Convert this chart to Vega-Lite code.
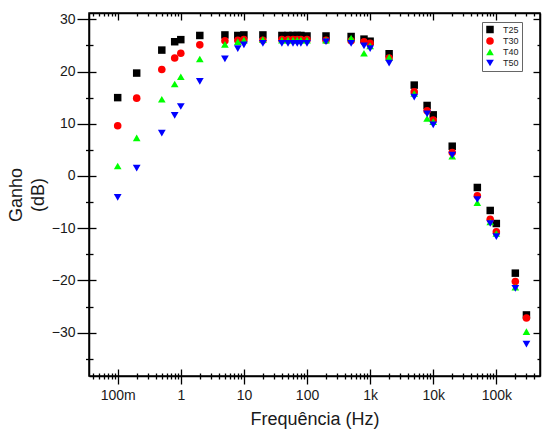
{
  "$schema": "https://vega.github.io/schema/vega-lite/v6.json",
  "width": 451,
  "height": 363,
  "autosize": {"type": "none"},
  "padding": {"left": 89, "top": 13, "right": 2, "bottom": 56},
  "background": "white",
  "config": {
    "view": {"stroke": "black", "strokeWidth": 1.5},
    "axis": {"labelFont": "Liberation Sans", "titleFont": "Liberation Sans", "labelFontSize": 14, "titleFontSize": 18, "titleFontWeight": "normal", "labelColor": "#1a1a1a", "titleColor": "#1a1a1a", "domainColor": "black", "tickColor": "black", "domainWidth": 1.5, "tickWidth": 1.3, "grid": false},
    "legend": {"labelFont": "Liberation Sans", "labelFontSize": 9, "labelColor": "#222"}
  },
  "data": {"values": [
    {"f":0.1,"g":15.0,"s":"T25"},{"f":0.2,"g":19.7,"s":"T25"},{"f":0.5,"g":24.1,"s":"T25"},{"f":0.8,"g":25.7,"s":"T25"},{"f":1,"g":26.1,"s":"T25"},{"f":2,"g":26.9,"s":"T25"},{"f":5,"g":27.0,"s":"T25"},{"f":8,"g":26.9,"s":"T25"},{"f":10,"g":27.0,"s":"T25"},{"f":20,"g":27.0,"s":"T25"},{"f":40,"g":26.9,"s":"T25"},{"f":50,"g":26.9,"s":"T25"},{"f":60,"g":26.9,"s":"T25"},{"f":70,"g":26.9,"s":"T25"},{"f":80,"g":26.9,"s":"T25"},{"f":100,"g":26.8,"s":"T25"},{"f":200,"g":26.8,"s":"T25"},{"f":500,"g":26.7,"s":"T25"},{"f":800,"g":26.2,"s":"T25"},{"f":1000,"g":25.8,"s":"T25"},{"f":2000,"g":23.4,"s":"T25"},{"f":5000,"g":17.4,"s":"T25"},{"f":8000,"g":13.5,"s":"T25"},{"f":10000,"g":11.7,"s":"T25"},{"f":20000,"g":5.7,"s":"T25"},{"f":50000,"g":-2.2,"s":"T25"},{"f":80000,"g":-6.6,"s":"T25"},{"f":100000,"g":-9.1,"s":"T25"},{"f":200000,"g":-18.6,"s":"T25"},{"f":300000,"g":-26.6,"s":"T25"},
    {"f":0.1,"g":9.6,"s":"T30"},{"f":0.2,"g":14.9,"s":"T30"},{"f":0.5,"g":20.4,"s":"T30"},{"f":0.8,"g":22.6,"s":"T30"},{"f":1,"g":23.5,"s":"T30"},{"f":2,"g":25.1,"s":"T30"},{"f":5,"g":25.9,"s":"T30"},{"f":8,"g":26.0,"s":"T30"},{"f":10,"g":26.1,"s":"T30"},{"f":20,"g":26.0,"s":"T30"},{"f":40,"g":26.1,"s":"T30"},{"f":50,"g":26.1,"s":"T30"},{"f":60,"g":26.1,"s":"T30"},{"f":70,"g":26.1,"s":"T30"},{"f":80,"g":26.1,"s":"T30"},{"f":100,"g":26.1,"s":"T30"},{"f":200,"g":26.0,"s":"T30"},{"f":500,"g":25.9,"s":"T30"},{"f":800,"g":25.7,"s":"T30"},{"f":1000,"g":25.4,"s":"T30"},{"f":2000,"g":22.6,"s":"T30"},{"f":5000,"g":16.1,"s":"T30"},{"f":8000,"g":12.5,"s":"T30"},{"f":10000,"g":10.7,"s":"T30"},{"f":20000,"g":4.5,"s":"T30"},{"f":50000,"g":-3.8,"s":"T30"},{"f":80000,"g":-8.3,"s":"T30"},{"f":100000,"g":-10.7,"s":"T30"},{"f":200000,"g":-20.2,"s":"T30"},{"f":300000,"g":-27.2,"s":"T30"},
    {"f":0.1,"g":1.9,"s":"T40"},{"f":0.2,"g":7.3,"s":"T40"},{"f":0.5,"g":14.7,"s":"T40"},{"f":0.8,"g":17.6,"s":"T40"},{"f":1,"g":19.0,"s":"T40"},{"f":2,"g":22.4,"s":"T40"},{"f":5,"g":25.2,"s":"T40"},{"f":8,"g":25.7,"s":"T40"},{"f":10,"g":26.0,"s":"T40"},{"f":20,"g":26.1,"s":"T40"},{"f":40,"g":26.0,"s":"T40"},{"f":50,"g":26.0,"s":"T40"},{"f":60,"g":26.0,"s":"T40"},{"f":70,"g":26.0,"s":"T40"},{"f":80,"g":26.0,"s":"T40"},{"f":100,"g":26.0,"s":"T40"},{"f":200,"g":26.0,"s":"T40"},{"f":500,"g":26.4,"s":"T40"},{"f":800,"g":23.5,"s":"T40"},{"f":1000,"g":24.9,"s":"T40"},{"f":2000,"g":22.7,"s":"T40"},{"f":5000,"g":15.8,"s":"T40"},{"f":8000,"g":11.0,"s":"T40"},{"f":10000,"g":10.4,"s":"T40"},{"f":20000,"g":3.8,"s":"T40"},{"f":50000,"g":-5.1,"s":"T40"},{"f":80000,"g":-8.8,"s":"T40"},{"f":100000,"g":-11.0,"s":"T40"},{"f":200000,"g":-21.3,"s":"T40"},{"f":300000,"g":-29.8,"s":"T40"},
    {"f":0.1,"g":-4.1,"s":"T50"},{"f":0.2,"g":1.5,"s":"T50"},{"f":0.5,"g":8.2,"s":"T50"},{"f":0.8,"g":11.6,"s":"T50"},{"f":1,"g":13.3,"s":"T50"},{"f":2,"g":18.1,"s":"T50"},{"f":5,"g":22.4,"s":"T50"},{"f":8,"g":24.4,"s":"T50"},{"f":10,"g":25.1,"s":"T50"},{"f":20,"g":25.4,"s":"T50"},{"f":40,"g":25.4,"s":"T50"},{"f":50,"g":25.4,"s":"T50"},{"f":60,"g":25.4,"s":"T50"},{"f":70,"g":25.4,"s":"T50"},{"f":80,"g":25.4,"s":"T50"},{"f":100,"g":25.4,"s":"T50"},{"f":200,"g":25.7,"s":"T50"},{"f":500,"g":25.4,"s":"T50"},{"f":800,"g":24.9,"s":"T50"},{"f":1000,"g":24.4,"s":"T50"},{"f":2000,"g":21.6,"s":"T50"},{"f":5000,"g":15.1,"s":"T50"},{"f":8000,"g":11.9,"s":"T50"},{"f":10000,"g":9.8,"s":"T50"},{"f":20000,"g":4.0,"s":"T50"},{"f":50000,"g":-4.5,"s":"T50"},{"f":80000,"g":-9.1,"s":"T50"},{"f":100000,"g":-11.6,"s":"T50"},{"f":200000,"g":-21.5,"s":"T50"},{"f":300000,"g":-32.2,"s":"T50"}
  ]},
  "resolve": {"axis": {"x": "independent", "y": "independent"}},
  "layer": [
    {
      "mark": {"type": "point", "filled": true, "opacity": 1},
      "encoding": {
        "x": {"field": "f", "type": "quantitative",
          "scale": {"type": "log", "domain": [0.0351, 492000], "nice": false},
          "axis": {"orient": "bottom", "title": "Frequência (Hz)", "titlePadding": 8,
            "values": [0.04,0.05,0.06,0.07,0.08,0.09,0.1,0.2,0.3,0.4,0.5,0.6,0.7,0.8,0.9,1,2,3,4,5,6,7,8,9,10,20,30,40,50,60,70,80,90,100,200,300,400,500,600,700,800,900,1000,2000,3000,4000,5000,6000,7000,8000,9000,10000,20000,30000,40000,50000,60000,70000,80000,90000,100000,200000,300000,400000],
            "tickSize": {"condition": {"test": "abs(log(datum.value)/LN10 - round(log(datum.value)/LN10)) < 0.001", "value": 8}, "value": 3},
            "labelExpr": "abs(log(datum.value)/LN10 - round(log(datum.value)/LN10)) < 0.001 ? (datum.value >= 1000 ? format(datum.value/1000,'d') + 'k' : (datum.value < 1 ? format(datum.value*1000,'d') + 'm' : format(datum.value,'d'))) : ''",
            "labelPadding": 4, "labelOverlap": false, "labelBound": false, "labelFlush": false}},
        "y": {"field": "g", "type": "quantitative",
          "scale": {"domain": [-38.29, 31.2], "nice": false, "zero": false},
          "axis": {"orient": "left", "title": ["Ganho", "(dB)"], "titlePadding": 4, "titleLineHeight": 22,
            "values": [-35,-30,-25,-20,-15,-10,-5,0,5,10,15,20,25,30],
            "tickSize": {"condition": {"test": "datum.value % 10 == 0", "value": 12}, "value": 3.5},
            "labelExpr": "datum.value % 10 == 0 ? datum.label : ''",
            "labelPadding": 2, "labelOverlap": false}},
        "color": {"field": "s", "type": "nominal",
          "scale": {"domain": ["T25","T30","T40","T50"], "range": ["#000000","#ff0000","#00ff00","#0000ff"]},
          "legend": {"title": null, "orient": "none", "legendX": 393, "legendY": 9, "strokeColor": "#666", "padding": 3, "rowPadding": 1, "labelOffset": 8}},
        "shape": {"field": "s", "type": "nominal",
          "scale": {"domain": ["T25","T30","T40","T50"], "range": ["square","circle","triangle-up","triangle-down"]}},
        "size": {"field": "s", "type": "nominal",
          "scale": {"domain": ["T25","T30","T40","T50"], "range": [56, 60, 110, 110]}}
      }
    },
    {
      "mark": {"type": "point", "opacity": 0},
      "encoding": {
        "x": {"field": "f", "type": "quantitative",
          "scale": {"type": "log", "domain": [0.0351, 492000], "nice": false},
          "axis": {"orient": "bottom", "title": null, "labels": false, "domain": false,
            "values": [0.04,0.05,0.06,0.07,0.08,0.09,0.1,0.2,0.3,0.4,0.5,0.6,0.7,0.8,0.9,1,2,3,4,5,6,7,8,9,10,20,30,40,50,60,70,80,90,100,200,300,400,500,600,700,800,900,1000,2000,3000,4000,5000,6000,7000,8000,9000,10000,20000,30000,40000,50000,60000,70000,80000,90000,100000,200000,300000,400000],
            "tickSize": {"condition": {"test": "abs(log(datum.value)/LN10 - round(log(datum.value)/LN10)) < 0.001", "value": -7}, "value": -3}}},
        "y": {"field": "g", "type": "quantitative",
          "scale": {"domain": [-38.29, 31.2], "nice": false, "zero": false},
          "axis": {"orient": "left", "title": null, "labels": false, "domain": false,
            "values": [-35,-30,-25,-20,-15,-10,-5,0,5,10,15,20,25,30],
            "tickSize": {"condition": {"test": "datum.value % 10 == 0", "value": -7}, "value": -4}}}
      }
    },
    {
      "mark": {"type": "point", "opacity": 0},
      "encoding": {
        "x": {"field": "f", "type": "quantitative",
          "scale": {"type": "log", "domain": [0.0351, 492000], "nice": false},
          "axis": {"orient": "top", "title": null, "labels": false, "domain": true,
            "values": [0.04,0.05,0.06,0.07,0.08,0.09,0.1,0.2,0.3,0.4,0.5,0.6,0.7,0.8,0.9,1,2,3,4,5,6,7,8,9,10,20,30,40,50,60,70,80,90,100,200,300,400,500,600,700,800,900,1000,2000,3000,4000,5000,6000,7000,8000,9000,10000,20000,30000,40000,50000,60000,70000,80000,90000,100000,200000,300000,400000],
            "tickSize": {"condition": {"test": "abs(log(datum.value)/LN10 - round(log(datum.value)/LN10)) < 0.001", "value": -7}, "value": -3}}},
        "y": {"field": "g", "type": "quantitative",
          "scale": {"domain": [-38.29, 31.2], "nice": false, "zero": false},
          "axis": {"orient": "right", "title": null, "labels": false, "domain": true,
            "values": [-35,-30,-25,-20,-15,-10,-5,0,5,10,15,20,25,30],
            "tickSize": {"condition": {"test": "datum.value % 10 == 0", "value": -7}, "value": -3}}}
      }
    }
  ]
}
